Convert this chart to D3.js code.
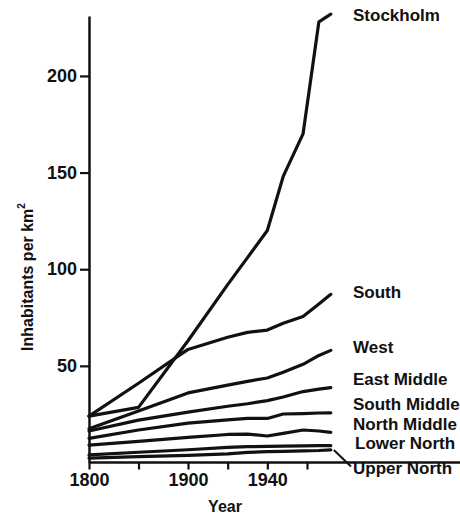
<!DOCTYPE html>
<html>
<head>
<meta charset="utf-8">
<script src="https://cdn.jsdelivr.net/npm/d3@7"></script>
<style>
  html, body { margin: 0; padding: 0; background: #fff; }
  svg { display: block; }
  text { font-family: "Liberation Sans", Arial, sans-serif; font-weight: bold; fill: #111; }
</style>
</head>
<body>
<svg id="chart" width="460" height="518"></svg>
<script>
// ---- data ----
const years = [1800, 1850, 1900, 1920, 1930, 1940, 1948, 1958, 1966, 1972];
const stockholm   = [24, 28.5, 63, 92, 106, 120, 148, 170, 228, 232];
const south       = [24, 41, 58.5, 64.8, 67.3, 68.5, 72, 75.5, 82, 87];
const west        = [17.5, 26.6, 36, 40, 42, 43.7, 46.7, 50.8, 55.4, 58];
const eastMiddle  = [16.3, 21.9, 26.1, 29.1, 30.4, 32, 33.9, 36.7, 38, 38.7];
const southMiddle = [12.5, 16.8, 20.4, 22.1, 22.8, 22.8, 25.1, 25.3, 25.6, 25.7];
const northMiddle = [9, 10.9, 13, 14.5, 14.7, 13.7, 15.1, 16.8, 16.3, 15.6];
const lowerNorth  = [3.9, 5.3, 6.6, 7.8, 8.2, 8.3, 8.5, 8.6, 8.7, 8.7];
const upperNorth  = [2.3, 3, 3.7, 4.5, 5.2, 5.6, 5.8, 6, 6.2, 6.5];
const seriesNames = ["Stockholm", "South", "West", "East Middle", "South Middle", "North Middle", "Lower North", "Upper North"];
const seriesValues = [stockholm, south, west, eastMiddle, southMiddle, northMiddle, lowerNorth, upperNorth];
const labelValues = [228.3, 85, 56.6, 40, 27.2, 16.8, 7, -6]; // label baseline positions (in data units)
const xTickValues = [1800, 1850, 1900, 1920, 1940, 1960];
const xTickLabels = ["1800", "", "1900", "", "1940", ""];
const yTickValues = [50, 100, 150, 200];

// ---- layout ----
const svg = d3.select("#chart");
const W = 460;
const x = d3.scaleLinear().domain([1800, 1900, 1972]).range([89, 188, 330.8]);
const y = d3.scaleLinear().domain([0, 231]).range([462.5, 16]);

// x axis baseline extending to the right edge
svg.append("line")
  .attr("x1", x(1800)).attr("x2", W)
  .attr("y1", y(0)).attr("y2", y(0))
  .attr("stroke", "#111").attr("stroke-width", 2.5);

const xAxis = svg.append("g")
  .attr("transform", `translate(0,${y(0)})`)
  .call(d3.axisBottom(x).tickValues(xTickValues)
    .tickFormat((d, i) => xTickLabels[i]).tickSize(7).tickPadding(4).tickSizeOuter(0));
xAxis.select(".domain").remove();
xAxis.selectAll(".tick line").attr("stroke", "#111").attr("stroke-width", 2.2);
xAxis.selectAll(".tick text").attr("font-size", 18).attr("font-family", null).attr("fill", "#111");

const yAxis = svg.append("g")
  .attr("transform", `translate(${x(1800)},0)`)
  .call(d3.axisLeft(y).tickValues(yTickValues).tickSize(9).tickPadding(3).tickSizeOuter(0));
yAxis.select(".domain").attr("stroke", "#111").attr("stroke-width", 2.5);
yAxis.selectAll(".tick line").attr("stroke", "#111").attr("stroke-width", 2.2);
yAxis.selectAll(".tick text").attr("font-size", 18).attr("font-family", null).attr("fill", "#111");

// lines
const line = d3.line().x((d, i) => x(years[i])).y(d => y(d));
svg.append("g").selectAll("path")
  .data(seriesValues)
  .join("path")
  .attr("d", d => line(d))
  .attr("fill", "none")
  .attr("stroke", "#111")
  .attr("stroke-width", 3.2)
  .attr("stroke-linejoin", "round")
  .attr("stroke-linecap", "round");

// series labels
svg.append("g").selectAll("text")
  .data(seriesNames)
  .join("text")
  .attr("x", (d, i) => i === 6 ? 355 : 353)
  .attr("y", (d, i) => y(labelValues[i]))
  .attr("font-size", 17)
  .text(d => d);

// leader for Upper North
svg.append("line")
  .attr("x1", x(1972) + 3).attr("y1", y(upperNorth[upperNorth.length - 1]))
  .attr("x2", 351).attr("y2", y(0) + 4)
  .attr("stroke", "#111").attr("stroke-width", 2);

// axis titles
svg.append("text")
  .attr("transform", "translate(33,277) rotate(-90)")
  .attr("text-anchor", "middle")
  .attr("font-size", 16)
  .text("Inhabitants per km")
  .append("tspan").attr("font-size", 10).attr("dy", -8).text("2");

svg.append("text")
  .attr("x", 225).attr("y", 512)
  .attr("text-anchor", "middle")
  .attr("font-size", 16)
  .text("Year");
</script>
</body>
</html>
